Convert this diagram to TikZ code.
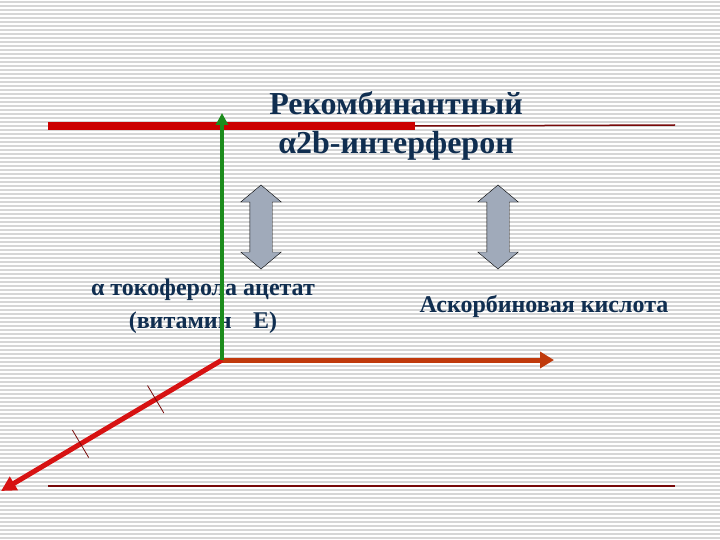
\documentclass[tikz,border=0pt]{standalone}
\usepackage{fontspec}
\setmainfont{Liberation Serif}
\usetikzlibrary{arrows.meta,shapes.arrows,calc}
\definecolor{inkblue}{RGB}{16,46,80}
\definecolor{barred}{RGB}{204,0,0}
\definecolor{darkred}{RGB}{120,10,10}
\definecolor{axisgreen}{RGB}{28,140,28}
\definecolor{axisorange}{RGB}{192,58,12}
\definecolor{axisred}{RGB}{215,18,18}
\definecolor{swapgray}{RGB}{160,170,186}
\definecolor{stripe}{RGB}{214,214,214}
\begin{document}
\begin{tikzpicture}[x=1pt, y=-1pt,
  lbl/.style={text=inkblue, font=\bfseries\fontsize{24}{33}\selectfont, align=center, inner sep=0},
  swap/.style={shape=double arrow, draw=black, fill=swapgray, rotate=90, minimum height=84,
    inner xsep=0, inner ysep=11, double arrow head extend=9, double arrow tip angle=100}]
  % striped background
  \useasboundingbox[fill=white] (0,0) rectangle (720,540);
  \foreach \y in {2,6,...,538} \draw[stripe, line width=1.5] (0,\y) -- (720,\y);
  % rulers
  \coordinate (barL) at (48,126);  \coordinate (barM) at (415,126);  \coordinate (barR) at (675,125);
  \coordinate (baseL) at (48,486); \coordinate (baseR) at (675,486);
  \draw[barred, line width=8] (barL) -- (barM);
  \draw[darkred, line width=1.5] (barM) -- (barR);
  \draw[darkred, line width=1.5] (baseL) -- (baseR);
  % labels
  \node[lbl, font=\bfseries\fontsize{32}{39}\selectfont] (title) at (396,126) {Рекомбинантный\\α2b-интерферон};
  \node[lbl] (toco) at (203,306) {α токоферола ацетат\\(витамин\hspace{0.9em}E)};
  \node[lbl] (asc) at (544,306) {Аскорбиновая кислота};
  \node[swap] (swapL) at (261,227) {};
  \node[swap] (swapR) at (498,227) {};
  % axes
  \coordinate (O) at (222,360);
  \coordinate (top) at (222,113);
  \coordinate (east) at (554,360);
  \coordinate (sw) at (1,491);
  \draw[axisorange, line width=5, -{Triangle[length=14pt,width=16pt]}] (O) -- (east);
  \draw[axisred, line width=5, -{Triangle[length=15pt,width=15pt]}] (O) -- coordinate[pos=.3] (t1) coordinate[pos=.64] (t2) (sw);
  \foreach \t in {t1,t2} \draw[darkred, line width=0.8] ($(\t)!16pt!90:(O)$) -- ($(\t)!16pt!-90:(O)$);
  \draw[axisgreen, line width=4, -{Triangle[length=12pt,width=12pt]}] (O) -- (top);
\end{tikzpicture}
\end{document}
